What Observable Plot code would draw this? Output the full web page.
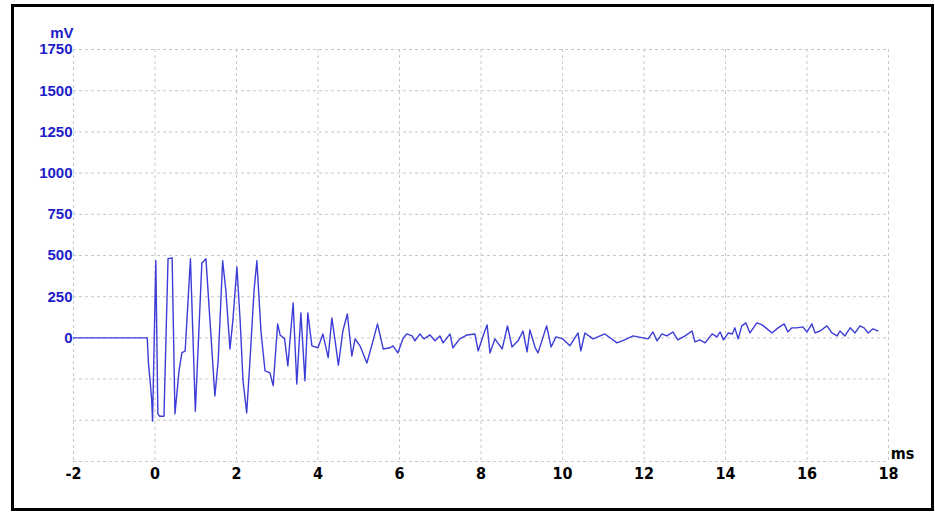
<!DOCTYPE html>
<html>
<head>
<meta charset="utf-8">
<script src="https://cdn.jsdelivr.net/npm/d3@7"></script>
<script src="https://cdn.jsdelivr.net/npm/@observablehq/plot@0.6"></script>
<style>
  html, body { margin: 0; padding: 0; background: #fff; }
  #wrap { position: relative; width: 935px; height: 512px; overflow: hidden; }
  #border { position: absolute; left: 11px; top: 4px; width: 923px; height: 507px; box-sizing: border-box; border: 3px solid #000; pointer-events: none; }
  svg { display: block; }
  .narrow text, .narrow { font-family: 'DejaVu Sans Condensed', 'Liberation Sans Narrow', sans-serif; font-stretch: condensed; }
</style>
</head>
<body>
<div id="wrap"><div id="border"></div></div>
<script>
// Time (ms)
const timeMs = [
  -2, -0.19, -0.16, -0.12, -0.08, -0.06, 0.02, 0.07, 0.11, 0.22, 0.32, 0.42, 0.49, 0.59, 0.66, 0.74,
  0.87, 0.99, 1.15, 1.25, 1.35, 1.47, 1.55, 1.66, 1.74, 1.84, 1.91, 2.01, 2.09, 2.16, 2.25, 2.33,
  2.43, 2.50, 2.60, 2.70, 2.82, 2.90, 3.01, 3.07, 3.18, 3.26, 3.39, 3.48, 3.58, 3.68, 3.75, 3.85,
  4.00, 4.12, 4.25, 4.34, 4.42, 4.50, 4.61, 4.72, 4.83, 4.91, 5.03, 5.20, 5.35, 5.46, 5.60, 5.77,
  5.84, 5.96, 6.09, 6.18, 6.31, 6.38, 6.50, 6.60, 6.75, 6.87, 6.99, 7.07, 7.24, 7.31, 7.48, 7.66,
  7.85, 7.93, 8.05, 8.15, 8.22, 8.34, 8.52, 8.65, 8.76, 8.91, 9.03, 9.13, 9.20, 9.33, 9.40, 9.61,
  9.72, 9.84, 10.01, 10.18, 10.38, 10.45, 10.55, 10.75, 11.04, 11.34, 11.58, 11.73, 12.10, 12.22, 12.32, 12.44,
  12.56, 12.71, 12.83, 13.01, 13.18, 13.25, 13.37, 13.50, 13.67, 13.79, 13.87, 13.95, 14.07, 14.17, 14.23, 14.31,
  14.40, 14.50, 14.60, 14.77, 14.90, 15.02, 15.14, 15.29, 15.44, 15.53, 15.63, 15.75, 15.90, 16.00, 16.12, 16.20,
  16.32, 16.49, 16.61, 16.74, 16.81, 16.93, 17.06, 17.18, 17.30, 17.40, 17.50, 17.62, 17.74
];
// Voltage (mV)
const voltageMv = [
  0, 0, -158, -260, -380, -505, 468, -460, -475, -475, 480, 486, -460, -200, -90, -80,
  480, -445, 455, 480, 100, -352, -140, 468, 285, -67, 103, 430, 103, -260, -455, -140,
  285, 468, 42, -200, -212, -290, 85, 18, -6, -170, 212, -280, 152, -260, 152, -48,
  -60, 24, -120, 121, -18, -165, 42, 145, -110, -6, -48, -152, -18, 85, -67, -60,
  -48, -91, 0, 24, 12, -18, 24, -6, 18, -18, 12, -30, 24, -60, -6, 18,
  24, -79, 12, 79, -91, -6, -67, 73, -55, -18, 42, -85, 49, -60, -91, 73,
  -55, 6, -6, -48, 30, -79, 30, -6, 24, -30, -6, 12, -6, 36, -18, 24,
  12, 36, -12, 12, 42, -24, -12, -30, 24, 6, 36, -12, 30, 24, 61, -6,
  73, 91, 30, 91, 79, 55, 30, 61, 85, 36, 61, 61, 67, 36, 85, 30,
  42, 73, 30, 12, 42, 12, 61, 30, 73, 61, 30, 55, 42
];
const xTicks = [-2, 0, 2, 4, 6, 8, 10, 12, 14, 16, 18];
const yLabelTicks = [0, 250, 500, 750, 1000, 1250, 1500, 1750];
const yGridTicks = [-750, -500, -250, 0, 250, 500, 750, 1000, 1250, 1500, 1750];

const data = timeMs.map((t, i) => ({t, v: voltageMv[i]}));

const gridStyle = {stroke: "#c8c8c8", strokeOpacity: 1, strokeDasharray: "3,3", strokeWidth: 1};
const plain = d => String(d);

const chart = Plot.plot({
  width: 935,
  height: 512,
  marginLeft: 73,
  marginRight: 47,
  marginTop: 49,
  marginBottom: 51,
  style: {background: "transparent", overflow: "visible"},
  x: {domain: [-2, 18]},
  y: {domain: [-750, 1750]},
  marks: [
    Plot.gridX(xTicks, gridStyle),
    Plot.gridY(yGridTicks, gridStyle),
    Plot.axisX(xTicks, {
      tickSize: 0, tickPadding: 6, label: null, tickFormat: plain,
      fill: "#000", fontSize: 16, fontWeight: "bold"
    }),
    Plot.axisY(yLabelTicks, {
      tickSize: 0, tickPadding: 1, label: null, tickFormat: plain,
      fill: "#1e1ec8", fontSize: 15, fontWeight: "bold",
      fontFamily: "'Liberation Sans', Arial, sans-serif"
    }),
    Plot.line(data, {x: "t", y: "v", stroke: "#3c3cd8", strokeWidth: 1.4}),
    Plot.text(["mV"], {
      frameAnchor: "top-left", dx: 0, dy: -16, textAnchor: "end", lineAnchor: "middle",
      fill: "#1e1ec8", fontSize: 15, fontWeight: "bold",
      fontFamily: "'Liberation Sans', Arial, sans-serif"
    }),
    Plot.text(["ms"], {
      frameAnchor: "bottom-right", dx: 14, dy: -8, textAnchor: "middle", lineAnchor: "middle",
      fill: "#000", fontSize: 16, fontWeight: "bold"
    })
  ]
});
// condensed face for the time labels (x tick labels and unit)
d3.select(chart).selectAll('g[aria-label="x-axis tick label"]').classed("narrow", true);
d3.select(chart).selectAll('g[aria-label="text"]').filter(function () {
  return this.textContent.trim() === "ms";
}).classed("narrow", true);
document.getElementById("wrap").prepend(chart);
</script>
</body>
</html>
